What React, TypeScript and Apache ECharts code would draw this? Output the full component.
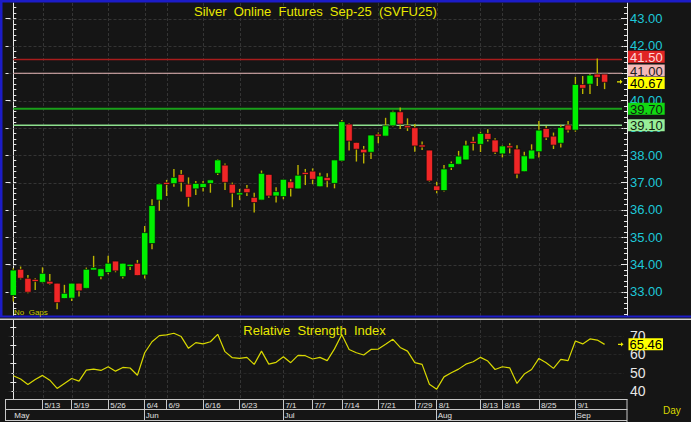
import React, { useEffect, useRef } from "react";
import * as echarts from "echarts";

// ---------- DATA ----------
const dates = ["5/7","5/8","5/9","5/12","5/13","5/14","5/15","5/16","5/19","5/20","5/21","5/22","5/23","5/26","5/27","5/28","5/29","5/30","6/4","6/5","6/6","6/9","6/10","6/11","6/12","6/13","6/16","6/17","6/18","6/19","6/20","6/23","6/24","6/25","6/26","6/27","6/30","7/1","7/2","7/3","7/4","7/7","7/8","7/9","7/10","7/14","7/15","7/16","7/17","7/18","7/21","7/22","7/23","7/24","7/25","7/29","7/30","7/31","8/1","8/4","8/5","8/6","8/7","8/8","8/13","8/14","8/15","8/18","8/19","8/20","8/21","8/22","8/25","8/26","8/27","8/28","8/29","9/1","9/2","9/3","9/4","9/5"];

const opens = [32.87,33.83,33.50,33.46,33.35,33.39,33.32,32.76,32.77,33.32,33.13,33.80,33.56,33.71,34.13,33.56,33.93,34.05,33.62,34.77,36.36,37.00,36.96,37.30,36.94,36.77,36.82,36.97,37.34,37.64,36.94,36.55,36.79,36.46,36.36,37.30,36.51,36.49,37.03,36.77,37.36,37.42,36.85,37.19,36.97,37.79,39.14,38.47,38.22,38.11,38.77,38.70,39.08,39.59,39.08,39.01,38.37,38.19,36.88,36.71,37.55,37.67,37.83,38.50,38.40,38.80,38.56,38.05,38.34,38.23,37.40,37.86,38.13,38.98,38.70,38.44,39.11,38.92,40.59,40.60,40.97,40.97];
const closes = [33.80,33.50,32.99,33.38,33.68,33.29,32.61,32.95,33.32,33.04,33.83,33.89,33.85,34.05,33.77,34.05,34.01,33.60,35.17,36.16,36.95,36.94,37.19,37.01,36.46,36.97,36.97,37.10,37.83,37.01,36.61,36.63,36.63,36.27,37.34,36.51,36.67,37.12,36.79,37.27,37.31,37.12,37.24,37.07,37.83,39.23,38.52,38.22,38.09,38.74,38.70,39.08,39.59,39.14,39.01,38.34,38.31,37.06,36.71,37.50,37.70,37.97,38.37,38.44,38.80,38.58,38.11,38.34,38.28,37.31,37.98,38.19,38.92,38.64,38.37,39.02,38.92,40.59,40.45,40.93,40.85,40.67];
const lows = [32.65,33.46,32.95,33.07,33.32,33.26,32.37,32.76,32.67,32.83,33.13,33.80,33.46,33.65,33.72,33.49,33.80,33.60,33.49,34.56,35.97,36.51,36.85,36.67,36.12,36.55,36.67,36.63,37.28,36.73,36.10,36.36,36.51,35.91,36.36,36.45,36.27,36.39,36.49,36.77,36.91,36.94,36.85,36.83,36.79,37.77,38.17,37.77,37.70,37.86,38.44,38.70,39.05,38.96,38.89,38.13,38.19,37.03,36.61,36.67,37.46,37.67,37.83,38.17,38.12,38.50,38.05,37.92,38.07,37.16,37.40,37.86,37.92,38.56,38.23,38.28,38.83,38.86,40.24,40.24,40.53,40.42];
const highs = [33.87,33.93,33.62,33.50,33.90,33.66,33.32,33.26,33.32,33.32,33.89,34.32,33.85,34.32,34.13,34.05,34.01,34.17,35.41,36.39,36.97,37.10,37.50,37.46,37.19,37.06,37.06,37.10,37.85,37.70,37.00,36.77,36.91,36.63,37.44,37.30,36.83,37.12,37.12,37.64,37.50,37.52,37.36,37.34,37.83,39.29,39.17,38.47,38.34,38.74,38.83,39.37,39.63,39.75,39.35,39.14,38.50,38.19,37.03,37.64,37.77,38.16,38.53,38.68,38.86,38.95,38.62,38.37,38.44,38.37,38.13,38.40,39.25,39.07,38.83,39.11,39.25,40.87,40.90,40.97,41.54,40.97];
const rsi = [48.4,46.6,43.7,46.4,48.6,46.0,41.5,44.2,46.9,45.5,51.5,52.0,51.3,53.3,50.9,52.9,52.6,48.7,60.9,66.9,70.2,70.6,71.5,69.7,63.3,66.4,65.7,66.9,70.9,61.5,58.2,57.8,58.4,54.6,61.8,54.7,55.7,58.7,55.5,59.5,59.3,57.5,58.4,56.6,63.0,70.8,62.7,60.9,59.7,62.7,62.9,65.5,68.2,63.8,61.8,55.5,54.6,43.8,41.1,47.8,50.0,52.0,54.7,56.0,58.4,56.4,51.8,53.3,52.7,44.2,49.3,51.8,57.8,55.5,52.4,57.3,56.6,67.3,65.7,68.4,67.8,65.46];

const levelValues = [41.5, 41.0, 39.7, 39.1];
const dayTickIdx = [4, 8, 13, 18, 21, 26, 31, 37, 41, 45, 50, 55, 58, 64, 67, 72, 77];
const monthTickIdx = [0, 18, 37, 58, 77];
const monthNames = ["May", "Jun", "Jul", "Aug", "Sep"];
const priceGrid = [33, 34, 35, 36, 37, 38, 39, 40, 41, 42, 43];
// 41.00 axis label lies fully under the 41.00 / 40.67 tags in the reference
const priceLabels = [33, 34, 35, 36, 37, 38, 39, 40, 42, 43];
const rsiLabels = [40, 50, 60, 70];
const rsiTicks = [40, 45, 50, 55, 60, 65, 70, 75];

// ---------- STYLE ----------
const FONT = '"Liberation Sans", Arial, sans-serif';
const UP = "#00f000";
const DOWN = "#f02626";
const WICK = "#bcb400";
const GRIDC = "#343434";
const AXISC = "#e8e8e8";
const X_MIN = -1.07, X_MAX = 84.07;
const P_MIN = 32.12, P_MAX = 43.57;
const R_MIN = 35.6, R_MAX = 78.7;

const levelStyles = [
  { line: "#a81c1c", width: 1.5, box: "#e02424", text: "#ffd8d8", dy: -2.8 },
  { line: "#e8b8b8", width: 1, box: "#f4b8b8", text: "#202020", dy: -2.7 },
  { line: "#1aa01a", width: 2, box: "#12d812", text: "#102010", dy: 0 },
  { line: "#8ee08e", width: 1.5, box: "#98ee98", text: "#102010", dy: 0 },
];

const priceMinor: number[] = [];
for (let k = 161; k <= 217; k++) priceMinor.push(+(k * 0.2).toFixed(1));

function tagBox(x: number, y: number, text: string, fill: string, color: string, w = 36.7) {
  return [
    { type: "rect", shape: { x, y: y - 6, width: w, height: 12 }, style: { fill } },
    {
      type: "text",
      x: x + w / 2,
      y: y + 0.5,
      style: { text, fill: color, font: `13px ${FONT}`, align: "center", verticalAlign: "middle", textAlign: "center", textVerticalAlign: "middle" },
    },
  ];
}
function arrow(x: number, y: number, color: string) {
  return {
    type: "polygon",
    shape: { points: [[x, y - 0.6], [x + 3, y - 0.6], [x + 3, y - 2.2], [x + 5.5, y], [x + 3, y + 2.2], [x + 3, y + 0.6], [x, y + 0.6]] },
    style: { fill: color },
  };
}

const App = () => {
  const ref = useRef<HTMLDivElement>(null);
  useEffect(() => {
    const chart = echarts.init(ref.current!, null, { renderer: "svg" });
    const candleData = opens.map((o, i) => [i, o, closes[i], lows[i], highs[i]]);
    const lastClose = closes[closes.length - 1];
    const lastRsi = rsi[rsi.length - 1];

    const option: any = {
      animation: false,
      backgroundColor: "#151515",
      grid: [
        { left: 5.5, top: 3, width: 621.5, height: 313 },
        { left: 5.5, top: 320, width: 621.5, height: 79.3 },
      ],
      xAxis: [
        { gridIndex: 0, type: "value", min: X_MIN, max: X_MAX, show: false },
        {
          gridIndex: 1, type: "value", min: X_MIN, max: X_MAX, position: "bottom",
          axisLine: { show: true, lineStyle: { color: "#c8c8c8", width: 1 } },
          axisTick: { show: true, customValues: dayTickIdx, length: 10, lineStyle: { color: "#c8c8c8" } },
          axisLabel: { show: true, customValues: dayTickIdx, formatter: (v: number) => dates[Math.round(v)], color: "#e0e0e0", fontSize: 8, fontFamily: FONT, align: "left", margin: 2, padding: [0, 0, 0, 2] },
          splitLine: { show: false },
        },
        {
          gridIndex: 1, type: "value", min: X_MIN, max: X_MAX, position: "bottom", offset: 10,
          axisLine: { show: true, lineStyle: { color: "#c8c8c8", width: 1 } },
          axisTick: { show: true, customValues: monthTickIdx.slice(1), length: 11, lineStyle: { color: "#c8c8c8" } },
          axisLabel: { show: true, customValues: monthTickIdx, formatter: (v: number) => monthNames[monthTickIdx.indexOf(Math.round(v))], color: "#e0e0e0", fontSize: 8, fontFamily: FONT, align: "left", margin: 2, padding: [0, 0, 0, 1] },
          splitLine: { show: false },
        },
      ],
      yAxis: [
        {
          gridIndex: 0, type: "value", min: P_MIN, max: P_MAX, position: "left",
          axisLine: { show: true, lineStyle: { color: AXISC } },
          axisTick: { show: true, inside: true, length: 3, customValues: priceMinor, lineStyle: { color: AXISC } },
          axisLabel: { show: false }, splitLine: { show: false },
        },
        {
          gridIndex: 0, type: "value", min: P_MIN, max: P_MAX, position: "left",
          axisLine: { show: false },
          axisTick: { show: true, inside: true, length: 5, customValues: priceGrid, lineStyle: { color: AXISC } },
          axisLabel: { show: false }, splitLine: { show: false },
        },
        {
          gridIndex: 0, type: "value", min: P_MIN, max: P_MAX, position: "right",
          axisLine: { show: true, lineStyle: { color: AXISC } },
          axisTick: { show: true, inside: true, length: 3, customValues: priceMinor, lineStyle: { color: AXISC } },
          axisLabel: { show: true, customValues: priceLabels, formatter: (v: number) => v.toFixed(2), color: "#1ec8d8", fontSize: 13, fontFamily: FONT, margin: 3 },
          splitLine: { show: false },
        },
        {
          gridIndex: 0, type: "value", min: P_MIN, max: P_MAX, position: "right",
          axisLine: { show: false },
          axisTick: { show: true, inside: true, length: 6, customValues: priceGrid, lineStyle: { color: AXISC } },
          axisLabel: { show: false }, splitLine: { show: false },
        },
        {
          gridIndex: 1, type: "value", min: R_MIN, max: R_MAX, position: "left",
          axisLine: { show: true, lineStyle: { color: AXISC } },
          axisTick: { show: true, inside: true, length: 3, customValues: rsiTicks, lineStyle: { color: AXISC } },
          axisLabel: { show: false }, splitLine: { show: false },
        },
        {
          gridIndex: 1, type: "value", min: R_MIN, max: R_MAX, position: "right",
          axisLine: { show: true, lineStyle: { color: AXISC } },
          axisTick: { show: true, inside: true, length: 3, customValues: rsiTicks, lineStyle: { color: AXISC } },
          axisLabel: { show: true, customValues: rsiLabels, color: "#e8e8e8", fontSize: 14, fontFamily: FONT, margin: 3 },
          splitLine: { show: false },
        },
      ],
      series: [
        {
          type: "custom", xAxisIndex: 0, yAxisIndex: 0, z: 1, silent: true,
          data: priceGrid.map((v) => [0, v]),
          renderItem: (params: any, api: any) => {
            const cs = params.coordSys;
            const y = Math.round(api.coord([0, api.value(1)])[1]) + 0.5;
            return { type: "line", shape: { x1: cs.x + 3, y1: y, x2: cs.x + cs.width - 3, y2: y }, style: { stroke: GRIDC, lineWidth: 1, lineDash: [3, 2] } };
          },
        },
        {
          type: "custom", xAxisIndex: 0, yAxisIndex: 0, z: 1, silent: true,
          data: dayTickIdx.map((i) => [i, P_MIN]),
          renderItem: (params: any, api: any) => {
            const cs = params.coordSys;
            const x = Math.round(api.coord([api.value(0), P_MIN])[0]) + 0.5;
            return { type: "line", shape: { x1: x, y1: cs.y, x2: x, y2: cs.y + cs.height }, style: { stroke: GRIDC, lineWidth: 1, lineDash: [3, 2] } };
          },
        },
        {
          type: "custom", xAxisIndex: 1, yAxisIndex: 4, z: 1, silent: true,
          data: dayTickIdx.map((i) => [i, R_MIN]),
          renderItem: (params: any, api: any) => {
            const cs = params.coordSys;
            const x = Math.round(api.coord([api.value(0), R_MIN])[0]) + 0.5;
            return { type: "line", shape: { x1: x, y1: cs.y, x2: x, y2: cs.y + cs.height }, style: { stroke: GRIDC, lineWidth: 1, lineDash: [3, 2] } };
          },
        },
        {
          type: "custom", xAxisIndex: 1, yAxisIndex: 4, z: 1, silent: true,
          data: rsiLabels.map((v) => [0, v]),
          renderItem: (params: any, api: any) => {
            const cs = params.coordSys;
            const y = Math.round(api.coord([0, api.value(1)])[1]) + 0.5;
            return { type: "line", shape: { x1: cs.x + 3, y1: y, x2: cs.x + cs.width - 3, y2: y }, style: { stroke: "#262626", lineWidth: 1, lineDash: [3, 2] } };
          },
        },
        {
          type: "custom", xAxisIndex: 0, yAxisIndex: 0, z: 2, silent: true,
          data: levelValues.map((v) => [0, v]),
          renderItem: (params: any, api: any) => {
            const cs = params.coordSys;
            const st = levelStyles[params.dataIndex];
            const p = api.coord([0, api.value(1)]);
            return {
              type: "line",
              shape: { x1: p[0], y1: p[1], x2: cs.x + cs.width - 5, y2: p[1] },
              style: { stroke: st.line, lineWidth: st.width },
            };
          },
        },
        {
          type: "custom", xAxisIndex: 0, yAxisIndex: 0, z: 3, silent: true,
          data: candleData,
          encode: { x: 0, y: [1, 2, 3, 4] },
          renderItem: (params: any, api: any) => {
            const i = api.value(0);
            const o = api.value(1), c = api.value(2), l = api.value(3), h = api.value(4);
            const po = api.coord([i, o]), pc = api.coord([i, c]);
            const pl = api.coord([i, l]), ph = api.coord([i, h]);
            const x = po[0];
            let top = Math.min(po[1], pc[1]);
            let bot = Math.max(po[1], pc[1]);
            if (bot - top < 2.2) { const m = (top + bot) / 2; top = m - 1.1; bot = m + 1.1; }
            return {
              type: "group",
              children: [
                { type: "line", shape: { x1: x, y1: ph[1], x2: x, y2: pl[1] }, style: { stroke: WICK, lineWidth: 1.4 } },
                { type: "rect", shape: { x: x - 3.2, y: top, width: 6.4, height: bot - top }, style: { fill: c >= o ? UP : DOWN, stroke: "#0a0a0a", lineWidth: 0.7 } },
              ],
            };
          },
        },
        {
          type: "custom", xAxisIndex: 0, yAxisIndex: 0, z: 6, silent: true,
          data: levelValues.map((v) => [0, v]),
          renderItem: (params: any, api: any) => {
            const cs = params.coordSys;
            const st = levelStyles[params.dataIndex];
            const v = api.value(1);
            const y = api.coord([0, v])[1] + st.dy;
            return { type: "group", children: tagBox(cs.x + cs.width + 1, y, v.toFixed(2), st.box, st.text) };
          },
        },
        {
          type: "custom", xAxisIndex: 0, yAxisIndex: 0, z: 7, silent: true,
          data: [[closes.length - 1, lastClose]],
          renderItem: (params: any, api: any) => {
            const cs = params.coordSys;
            const v = api.value(1);
            const y = api.coord([0, v])[1];
            return {
              type: "group",
              children: [arrow(cs.x + cs.width - 10, y - 0.5, "#e8e800"), ...tagBox(cs.x + cs.width + 1, y + 0.8, v.toFixed(2), "#ffff00", "#000000")],
            };
          },
        },
        {
          type: "line", xAxisIndex: 1, yAxisIndex: 4, z: 3, silent: true,
          data: rsi.map((v, i) => [i, v]),
          showSymbol: false, symbol: "none",
          lineStyle: { color: "#d8d800", width: 1.2 },
        },
        {
          type: "custom", xAxisIndex: 1, yAxisIndex: 4, z: 7, silent: true,
          data: [[rsi.length - 1, lastRsi]],
          renderItem: (params: any, api: any) => {
            const cs = params.coordSys;
            const v = api.value(1);
            const y = api.coord([0, v])[1];
            return {
              type: "group",
              children: [arrow(cs.x + cs.width - 9, y, "#e8e800"), ...tagBox(cs.x + cs.width + 1.5, y, v.toFixed(2), "#ffff00", "#000000", 34.5)],
            };
          },
        },
      ],
      graphic: [
        { type: "rect", z: 10, shape: { x: 0, y: 0, width: 691, height: 2.5 }, style: { fill: "#1c1cc8" } },
        { type: "rect", z: 10, shape: { x: 0, y: 0, width: 2.5, height: 317 }, style: { fill: "#1c1cc8" } },
        { type: "rect", z: 10, shape: { x: 0, y: 315.5, width: 691, height: 2 }, style: { fill: "#1c1cc8" } },
        { type: "rect", z: 10, shape: { x: 0, y: 318.5, width: 691, height: 1.5 }, style: { fill: "#d0d0d0" } },
        { type: "line", z: 10, shape: { x1: 5.5, y1: 420.5, x2: 627, y2: 420.5 }, style: { stroke: "#c8c8c8", lineWidth: 1 } },
        { type: "line", z: 10, shape: { x1: 5.5, y1: 399, x2: 5.5, y2: 421 }, style: { stroke: "#c8c8c8", lineWidth: 1 } },
        { type: "line", z: 10, shape: { x1: 627, y1: 399, x2: 627, y2: 422 }, style: { stroke: "#c8c8c8", lineWidth: 1 } },
        {
          type: "text", z: 10, x: 315.4, y: 11.5,
          style: { text: "Silver  Online  Futures  Sep-25  (SVFU25)", fill: "#e8e800", font: `13px ${FONT}`, align: "center", verticalAlign: "middle", textAlign: "center", textVerticalAlign: "middle" },
        },
        {
          type: "text", z: 10, x: 314.5, y: 330.5,
          style: { text: "Relative  Strength  Index", fill: "#e8e800", font: `13px ${FONT}`, align: "center", verticalAlign: "middle", textAlign: "center", textVerticalAlign: "middle" },
        },
        {
          type: "text", z: 10, x: 14, y: 312,
          style: { text: "No  Gaps", fill: "#c8c800", font: `8px ${FONT}`, align: "left", verticalAlign: "middle", textAlign: "left", textVerticalAlign: "middle" },
        },
        {
          type: "text", z: 10, x: 663, y: 410.5,
          style: { text: "Day", fill: "#d8d800", font: `10px ${FONT}`, align: "left", verticalAlign: "middle", textAlign: "left", textVerticalAlign: "middle" },
        },
      ],
    };
    chart.setOption(option);
    return () => chart.dispose();
  }, []);
  return <div ref={ref} style={{ position: "fixed", left: 0, top: 0, width: 691, height: 422 }} />;
};

export default App;
